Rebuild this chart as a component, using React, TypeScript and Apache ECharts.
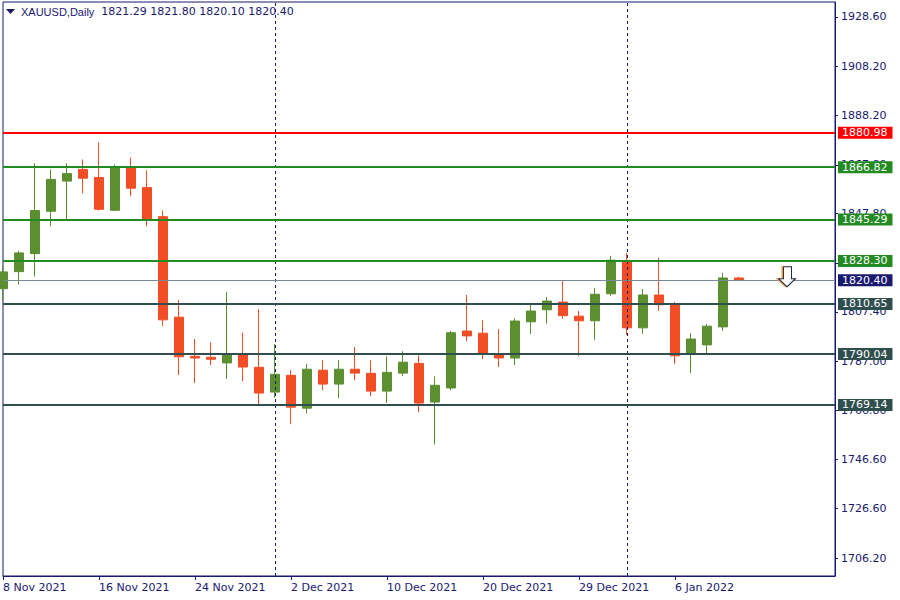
import React, { useEffect, useRef } from 'react';
import * as echarts from 'echarts';

const symbolName = 'XAUUSD';
const periodName = 'Daily';

const dates = [
  '8 Nov 2021', '9 Nov 2021', '10 Nov 2021', '11 Nov 2021', '12 Nov 2021',
  '15 Nov 2021', '16 Nov 2021', '17 Nov 2021', '18 Nov 2021', '19 Nov 2021',
  '22 Nov 2021', '23 Nov 2021', '24 Nov 2021', '25 Nov 2021', '26 Nov 2021',
  '29 Nov 2021', '30 Nov 2021', '1 Dec 2021', '2 Dec 2021', '3 Dec 2021',
  '6 Dec 2021', '7 Dec 2021', '8 Dec 2021', '9 Dec 2021', '10 Dec 2021',
  '13 Dec 2021', '14 Dec 2021', '15 Dec 2021', '16 Dec 2021', '17 Dec 2021',
  '20 Dec 2021', '21 Dec 2021', '22 Dec 2021', '23 Dec 2021', '27 Dec 2021',
  '28 Dec 2021', '29 Dec 2021', '30 Dec 2021', '31 Dec 2021', '3 Jan 2022',
  '4 Jan 2022', '5 Jan 2022', '6 Jan 2022', '7 Jan 2022', '10 Jan 2022',
  '11 Jan 2022', '12 Jan 2022', '13 Jan 2022', '14 Jan 2022', '17 Jan 2022',
  '18 Jan 2022', '19 Jan 2022', '20 Jan 2022',
];

const opens = [
  1816.9, 1823.9, 1831.3, 1848.7, 1861.1, 1865.9, 1862.6, 1849.1, 1867.1, 1858.5,
  1846.5, 1805.2, 1789.1, 1788.7, 1786.4, 1790.1, 1784.6, 1774.4, 1781.3, 1767.8,
  1783.4, 1777.7, 1783.8, 1782.1, 1774.8, 1782.2, 1786.2, 1770.3, 1776.1, 1799.5,
  1798.6, 1790.0, 1788.4, 1803.3, 1808.2, 1811.4, 1805.6, 1803.7, 1814.8, 1828.2,
  1800.8, 1814.3, 1810.2, 1790.1, 1793.8, 1801.2, 1821.29,
];
const closes = [
  1823.8, 1831.6, 1849.0, 1861.8, 1864.2, 1862.3, 1849.5, 1867.0, 1858.2, 1845.1,
  1804.1, 1788.9, 1788.4, 1787.9, 1790.2, 1784.7, 1774.0, 1781.7, 1768.2, 1783.8,
  1777.7, 1783.8, 1782.2, 1774.8, 1782.5, 1786.7, 1769.9, 1777.2, 1798.8, 1797.5,
  1790.1, 1788.4, 1803.6, 1807.7, 1811.8, 1805.8, 1803.7, 1814.6, 1828.6, 1800.8,
  1814.3, 1810.3, 1789.3, 1796.2, 1801.5, 1821.3, 1820.40,
];
const lows = [
  1812.0, 1818.6, 1821.9, 1842.5, 1845.3, 1856.1, 1849.0, 1849.0, 1854.9, 1842.5,
  1801.6, 1781.4, 1778.1, 1785.5, 1779.8, 1778.9, 1769.3, 1772.1, 1761.2, 1765.7,
  1775.2, 1771.9, 1779.4, 1772.8, 1769.9, 1781.0, 1766.2, 1752.9, 1775.2, 1795.4,
  1788.0, 1784.7, 1785.5, 1798.3, 1802.5, 1804.5, 1789.3, 1795.9, 1814.0, 1797.9,
  1798.3, 1807.8, 1786.0, 1782.2, 1790.1, 1799.6, 1820.10,
];
const highs = [
  1826.3, 1832.5, 1868.4, 1865.9, 1868.4, 1870.0, 1877.0, 1867.9, 1870.8, 1865.5,
  1849.0, 1812.2, 1796.2, 1794.9, 1815.5, 1798.8, 1808.5, 1794.1, 1783.4, 1785.9,
  1787.5, 1787.5, 1792.9, 1787.5, 1789.1, 1791.2, 1789.5, 1780.9, 1799.5, 1814.3,
  1804.0, 1800.3, 1804.8, 1810.6, 1813.5, 1820.1, 1807.7, 1817.2, 1830.4, 1831.6,
  1816.8, 1829.6, 1811.4, 1798.6, 1802.3, 1823.4, 1821.80,
];

const xTickLabels = [
  '8 Nov 2021', '16 Nov 2021', '24 Nov 2021', '2 Dec 2021',
  '10 Dec 2021', '20 Dec 2021', '29 Dec 2021', '6 Jan 2022',
];
const yTickValues = [
  1706.2, 1726.6, 1746.6, 1766.8, 1787.0, 1807.4, 1827.4, 1847.8, 1867.8, 1888.2, 1908.2, 1928.6,
];

const topLevel = 1880.98;
const resistanceLevels = [1866.82, 1845.29, 1828.30];
const supportLevels = [1810.65, 1790.04, 1769.14];
const bidPrice = 1820.40;
const periodSeparators = ['1 Dec 2021', '3 Jan 2022'];
const arrowDate = '17 Jan 2022';
const arrowPrice = 1821.8;

export default function App() {
  const ref = useRef<HTMLDivElement>(null);

  useEffect(() => {
    const chart = echarts.init(ref.current!, null, { renderer: 'svg' });
    const navy = '#191970';
    const font = 'DejaVu Sans';
    const bull = '#5b8f2f';
    const bear = '#f24e25';
    const last = opens.length - 1;
    const fmt = (v: number) => v.toFixed(2);

    const candles = opens.map((o, i) => [o, closes[i], lows[i], highs[i]]);

    const hLine = (v: number, color: string, width: number) => ({
      yAxis: v,
      lineStyle: { color, width, type: 'solid' },
      label: {
        show: true,
        position: 'end',
        distance: 3,
        formatter: () => fmt(v),
        color: '#ffffff',
        backgroundColor: color,
        fontFamily: font,
        fontSize: 11,
        lineHeight: 12,
        padding: [0, 5, 0, 4],
      },
    });

    const levelLines = [
      hLine(topLevel, '#ff0000', 2),
      ...resistanceLevels.map((v) => hLine(v, '#228b22', 2)),
      hLine(bidPrice, '#778899', 1),
      ...supportLevels.map((v) => hLine(v, '#2f4f4f', 2)),
    ];
    // bid label navy background
    (levelLines[4] as any).label.backgroundColor = navy;

    const headerText =
      '{a|' + symbolName + ',' + periodName + '}{b|  ' +
      [opens[last], highs[last], lows[last], closes[last]].map(fmt).join(' ') + '}';

    const option: any = {
      animation: false,
      backgroundColor: '#ffffff',
      textStyle: { fontFamily: font },
      grid: {
        left: 3,
        top: 2,
        width: 832,
        height: 574,
        show: true,
        borderColor: navy,
        borderWidth: 1,
        backgroundColor: '#ffffff',
      },
      xAxis: {
        type: 'category',
        data: dates,
        boundaryGap: false,
        axisLine: { show: true, lineStyle: { color: navy, width: 1 } },
        axisTick: {
          show: true,
          length: 4,
          interval: (_i: number, v: string) => xTickLabels.includes(v),
          lineStyle: { color: navy },
        },
        axisLabel: {
          interval: (_i: number, v: string) => xTickLabels.includes(v),
          align: 'left',
          color: navy,
          fontFamily: font,
          fontSize: 11,
          margin: 6,
        },
        splitLine: { show: false },
      },
      yAxis: {
        type: 'value',
        position: 'right',
        min: 1698.83,
        max: 1934.7,
        axisLine: { show: true, lineStyle: { color: navy, width: 1 } },
        axisTick: {
          show: true,
          length: 3,
          customValues: yTickValues,
          lineStyle: { color: navy },
        },
        axisLabel: {
          customValues: yTickValues,
          formatter: (v: number) => fmt(v),
          color: navy,
          fontFamily: font,
          fontSize: 11,
          margin: 6,
        },
        splitLine: { show: false },
      },
      series: [
        {
          type: 'line',
          z: 1,
          data: dates.map(() => '-'),
          symbol: 'none',
          silent: true,
          markLine: {
            silent: true,
            symbol: ['none', 'none'],
            animation: false,
            data: [
              ...periodSeparators.map((d) => ({
                xAxis: d,
                lineStyle: { color: navy, width: 1, type: [3, 3] },
                label: { show: false },
              })),
              ...levelLines,
            ],
          },
        },
        {
          type: 'candlestick',
          z: 3,
          data: candles,
          barWidth: 10,
          clip: true,
          itemStyle: {
            color: bull,
            color0: bear,
            borderColor: bull,
            borderColor0: bear,
            borderWidth: 1,
          },
          markPoint: {
            silent: true,
            animation: false,
            data: [
              {
                coord: [arrowDate, arrowPrice],
                symbol: 'path://M5,0L13,0L13,12L17,12L8.5,20L0,12L5,12Z',
                symbolSize: [17, 20],
                itemStyle: {
                  color: '#ffffff',
                  borderColor: '#0f1c45',
                  borderWidth: 1,
                  shadowColor: '#e39a3a',
                  shadowOffsetX: -1.5,
                  shadowOffsetY: 0,
                  shadowBlur: 0,
                },
                label: { show: false },
              },
            ],
          },
        },
      ],
      graphic: [
        {
          type: 'polygon',
          shape: { points: [[6, 9], [15, 9], [10.5, 14]] },
          style: { fill: navy },
        },
        {
          type: 'text',
          left: 21,
          top: 6,
          style: {
            text: headerText,
            fill: navy,
            rich: {
              a: { fontFamily: 'Liberation Sans', fontSize: 11, fill: navy, color: navy },
              b: { fontFamily: font, fontSize: 11, fill: navy, color: navy },
            },
          },
        },
      ],
    };

    chart.setOption(option);
    return () => chart.dispose();
  }, []);

  return (
    <div
      ref={ref}
      style={{ position: 'fixed', left: 0, top: 0, width: 900, height: 600, background: '#fff' }}
    />
  );
}
